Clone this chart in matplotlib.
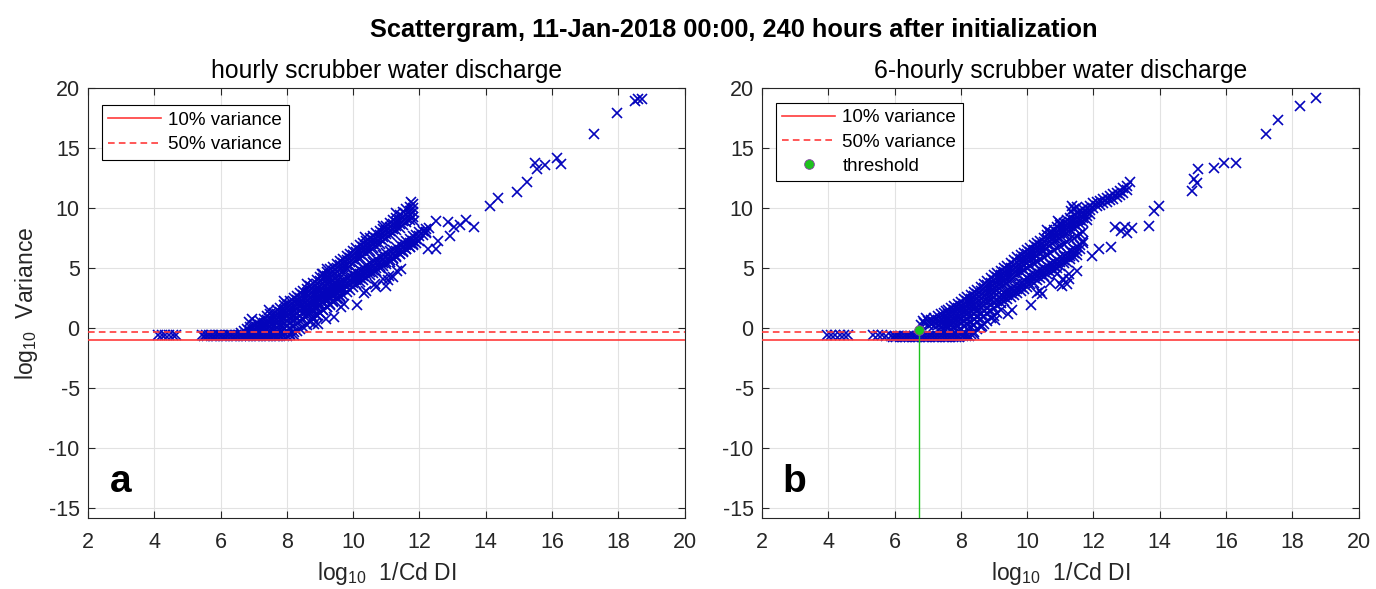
import matplotlib
matplotlib.use("Agg")
import numpy as np
import matplotlib.pyplot as plt
from matplotlib.lines import Line2D

plt.rcParams['font.family'] = ['Liberation Sans', 'DejaVu Sans']
plt.rcParams['mathtext.fontset'] = 'custom'
plt.rcParams['mathtext.rm'] = 'Liberation Sans'
plt.rcParams['mathtext.it'] = 'Liberation Sans:italic'
plt.rcParams['axes.unicode_minus'] = False

N = None
# ---------------- data ----------------
suptitle = "Scattergram, 11-Jan-2018 00:00, 240 hours after initialization"
titles = ["hourly scrubber water discharge", "6-hourly scrubber water discharge"]
panel_letters = ["a", "b"]
xticks = [2, 4, 6, 8, 10, 12, 14, 16, 18, 20]
yticks = [-15, -10, -5, 0, 5, 10, 15, 20]
var10 = -1.0      # log10(0.1)
var50 = -0.301    # log10(0.5)
thr_x = 6.75
thr_y = -0.15

# ===== panel a =====
a_left_x = [4.10, 4.22, 4.32, 4.45, 4.55, 4.65]
a_left_y = [-0.55, -0.52, -0.56, -0.52, -0.55, -0.52]
a_flat_x1 = [5.45, 5.55, 5.65, 5.75, 5.85, 5.95, 6.05, 6.15, 6.25, 6.35, 6.45, 6.55, 6.65,
             6.75, 6.85, 6.95, 7.05, 7.15, 7.25, 7.35, 7.45, 7.55, 7.65, 7.75, 7.85]
a_flat_y1 = [-0.58, -0.6, -0.57, -0.6, -0.58, -0.6, -0.57, -0.59, -0.6, -0.57, -0.6, -0.58, -0.6,
             -0.57, -0.6, -0.58, -0.6, -0.57, -0.6, -0.58, -0.6, -0.57, -0.6, -0.58, -0.6]
a_flat_x2 = [5.5, 5.6, 5.7, 5.8, 5.9, 6.0, 6.1, 6.2, 6.3, 6.4, 6.5, 6.6, 6.7, 6.8,
             6.9, 7.0, 7.1, 7.2, 7.3, 7.4, 7.5, 7.6, 7.7, 7.8, 7.9, 8.0, 8.1, 8.2]
a_flat_y2 = [-0.66, -0.68, -0.65, -0.67, -0.66, -0.68, -0.65, -0.67, -0.66, -0.68, -0.65, -0.67, -0.66, -0.68,
             -0.65, -0.67, -0.66, -0.68, -0.65, -0.67, -0.66, -0.68, -0.65, -0.67, -0.66, -0.62, -0.6, -0.55]

# upper / middle band tracks (shared x)
a_ux = [6.6, 6.7, 6.8, 6.9, 7.0, 7.1, 7.2, 7.3, 7.4, 7.5, 7.6, 7.7, 7.8, 7.9, 8.0, 8.1, 8.2, 8.3,
        8.4, 8.5, 8.6, 8.7, 8.8, 8.9, 9.0, 9.1, 9.2, 9.3, 9.4, 9.5, 9.6, 9.7, 9.8, 9.9, 10.0,
        10.1, 10.2, 10.3, 10.4, 10.5, 10.6, 10.7, 10.8, 10.9, 11.0, 11.1, 11.2, 11.3, 11.4,
        11.5, 11.6, 11.7, 11.8]
a_u1 = [-0.4, -0.25, -0.1, 0.1, 0.3, 0.45, 0.6, 0.8, 1.0, 1.15, 1.3, 1.5, 1.7, 1.9, 2.05, 2.3, 2.5, 2.7,
        2.9, 3.1, 3.3, 3.55, 3.8, 4.0, 4.25, 4.5, 4.7, 4.9, 5.1, 5.35, 5.6, 5.8, 6.0, 6.2, 6.45,
        6.7, 6.9, 7.1, 7.3, 7.5, 7.7, 7.9, 8.1, 8.3, 8.55, 8.8, 9.0, 9.2, 9.4,
        9.65, 9.9, 10.1, 10.35]
a_u2 = [N, N, -0.45, -0.25, -0.05, 0.1, 0.25, 0.45, 0.65, 0.8, 0.95, 1.15, 1.35, 1.55, 1.7, 1.95, 2.15, 2.35,
        2.55, 2.75, 2.95, 3.2, 3.45, 3.65, 3.9, 4.15, 4.35, 4.55, 4.75, 5.0, 5.25, 5.45, 5.65, 5.85, 6.1,
        6.35, 6.55, 6.75, 6.95, 7.15, 7.35, 7.55, 7.75, 7.95, 8.2, 8.45, 8.65, 8.85, 9.05,
        9.3, 9.55, 9.75, 10.0]
a_u3 = [N, N, N, -0.6, -0.4, -0.25, -0.1, 0.1, 0.3, 0.45, 0.6, 0.8, 1.0, 1.2, 1.35, 1.6, 1.8, 2.0,
        2.2, 2.4, 2.6, 2.85, 3.1, 3.3, 3.55, 3.8, 4.0, 4.2, 4.4, 4.65, 4.9, 5.1, 5.3, 5.5, 5.75,
        6.0, 6.2, 6.4, 6.6, 6.8, 7.0, 7.2, 7.4, 7.6, 7.85, 8.1, 8.3, 8.5, 8.7,
        8.95, 9.2, 9.4, 9.65]
a_u4 = [N, N, N, N, N, -0.6, -0.45, -0.25, -0.05, 0.1, 0.25, 0.45, 0.65, 0.85, 1.0, 1.25, 1.45, 1.65,
        1.85, 2.05, 2.25, 2.5, 2.75, 2.95, 3.2, 3.45, 3.65, 3.85, 4.05, 4.3, 4.55, 4.75, 4.95, 5.15, 5.4,
        5.65, 5.85, 6.05, 6.25, 6.45, 6.65, 6.85, 7.05, 7.25, 7.5, 7.75, 7.95, 8.15, 8.35,
        8.6, 8.85, 9.05, 9.3]

# fill between flat part and middle band (shared x)
a_fx = [7.3, 7.4, 7.5, 7.6, 7.7, 7.8, 7.9, 8.0, 8.1, 8.2, 8.3, 8.4, 8.5, 8.6, 8.7, 8.8,
        8.9, 9.0, 9.1, 9.2, 9.3, 9.4, 9.5, 9.6]
a_f1 = [N, -0.45, -0.3, -0.15, 0.05, 0.25, 0.45, 0.6, 0.85, 1.05, 1.25, 1.45, 1.65, 1.85, 2.1, 2.35,
        2.55, 2.8, 3.05, 3.25, 3.45, 3.65, 3.9, 4.15]
a_f2 = [N, N, N, -0.55, -0.35, -0.15, 0.05, 0.2, 0.45, 0.65, 0.85, 1.05, 1.25, 1.45, 1.7, 1.95,
        2.15, 2.4, 2.65, 2.85, 3.05, 3.25, 3.5, 3.75]
a_f3 = [N, N, N, N, N, N, -0.4, -0.25, 0.0, 0.2, 0.4, 0.6, 0.8, 1.0, 1.25, 1.5,
        1.7, 1.95, 2.2, 2.4, 2.6, 2.8, 3.05, 3.3]
a_f4 = [N, N, N, N, N, N, N, N, -0.45, -0.35, -0.2, -0.05, 0.1, 0.3, 0.5, 0.75,
        1.0, 1.25, 1.5, 1.75, 2.0, 2.25, 2.5, 2.7]

# lower band tracks (shared x)
a_lx = [8.6, 8.7, 8.8, 8.9, 9.0, 9.1, 9.2, 9.3, 9.4, 9.5, 9.6, 9.7, 9.8, 9.9, 10.0, 10.1,
        10.2, 10.3, 10.4, 10.5, 10.6, 10.7, 10.8, 10.9, 11.0, 11.1, 11.2, 11.3, 11.4, 11.5,
        11.6, 11.7, 11.8, 11.9, 12.0, 12.1, 12.2, 12.3, 12.4]
a_l1 = [1.9, 2.1, 2.3, 2.5, 2.7, 2.85, 3.0, 3.2, 3.4, 3.6, 3.8, 4.0, 4.15, 4.35, 4.5, 4.7,
        4.85, 5.05, 5.2, 5.4, 5.55, 5.75, 5.9, 6.1, 6.25, 6.4, 6.55, 6.75, 6.9, 7.1,
        7.3, 7.45, 7.65, 7.8, 8.0, 8.1, 8.25, 8.35, N]
a_l2 = [1.55, 1.75, 1.95, 2.15, 2.35, 2.5, 2.65, 2.85, 3.05, 3.25, 3.45, 3.65, 3.8, 4.0, 4.15, 4.35,
        4.5, 4.7, 4.85, 5.05, 5.2, 5.4, 5.55, 5.75, 5.9, 6.05, 6.2, 6.4, 6.55, 6.75,
        6.95, 7.1, 7.3, 7.45, 7.65, 7.8, 7.95, N, N]
a_l3 = [1.2, 1.4, 1.6, 1.8, 2.0, 2.15, 2.3, 2.5, 2.7, 2.9, 3.1, 3.3, 3.45, 3.65, 3.8, 4.0,
        4.15, 4.35, 4.5, 4.7, 4.85, 5.05, 5.2, 5.4, 5.55, 5.7, 5.85, 6.05, 6.2, 6.4,
        6.6, 6.75, 6.95, 7.1, 7.3, N, N, N, N]
a_l4 = [N, N, 0.9, 1.1, 1.3, 1.5, 1.75, 1.95, 2.2, 2.4, 2.6, 2.8, 3.0, 3.2, 3.45, 3.65,
        3.85, 4.0, 4.2, 4.4, 4.6, 4.8, 5.0, 5.2, 5.35, 5.55, 5.75, 5.95, 6.15, 6.35,
        6.6, 6.8, 7.0, N, N, N, N, N, N]

a_sp_x = [6.85, 6.95, 7.45, 7.9, 8.6, 9.05, 9.2, 10.35, 10.9, 11.3, 11.75, 11.85,
          8.82, 8.93, 9.17, 9.41, 9.63, 9.73, 10.12, 10.33, 10.38, 10.66, 10.69, 10.9,
          11.0, 11.04, 11.08, 11.2, 11.32, 11.44]
a_sp_y = [0.5, 0.75, 1.55, 2.3, 3.65, 4.55, 4.9, 7.6, 8.5, 9.6, 10.55, 8.9,
          0.36, 0.33, 0.75, 0.9, 1.75, 2.0, 1.9, 2.9, 3.1, 3.68, 3.4, 4.1,
          3.55, 4.0, 4.37, 4.25, 4.79, 4.93]
a_far_x = [12.27, 12.5, 12.57, 12.2, 12.5, 12.87, 12.93, 13.05, 13.23, 13.41, 13.65,
           14.13, 14.37, 14.94, 15.24, 15.5, 15.56, 15.8, 16.16, 16.28, 17.27, 17.95,
           18.5, 18.61, 18.73]
a_far_y = [6.6, 6.6, 7.3, 8.0, 8.9, 8.83, 7.66, 8.4, 8.63, 9.02, 8.47,
           10.22, 10.86, 11.34, 12.17, 13.76, 13.3, 13.6, 14.2, 13.65, 16.15, 17.9,
           18.95, 19.1, 19.1]

# ===== panel b =====
b_left_x = [3.95, 4.08, 4.2, 4.35, 4.48, 4.6]
b_left_y = [-0.58, -0.55, -0.6, -0.55, -0.58, -0.55]
b_sparse_x = [5.35, 5.5, 5.62, 5.75]
b_sparse_y = [-0.58, -0.6, -0.56, -0.62]
b_flat_x1 = [5.9, 6.0, 6.1, 6.2, 6.3, 6.4, 6.5, 6.6, 6.7, 6.8, 6.9, 7.0, 7.1, 7.2, 7.3,
             7.4, 7.5, 7.6, 7.7, 7.8, 7.9, 8.0, 8.1, 8.2, 8.3, 8.4]
b_flat_y1 = [-0.62, -0.65, -0.62, -0.64, -0.62, -0.65, -0.62, -0.64, -0.62, -0.65, -0.62, -0.64, -0.62, -0.65, -0.62,
             -0.64, -0.62, -0.65, -0.62, -0.64, -0.62, -0.6, -0.58, -0.55, -0.5, -0.45]
b_flat_x2 = [5.95, 6.05, 6.15, 6.25, 6.35, 6.45, 6.55, 6.65, 6.75, 6.85, 6.95, 7.05, 7.15,
             7.25, 7.35, 7.45, 7.55, 7.65, 7.75, 7.85, 7.95, 8.05, 8.15, 8.25]
b_flat_y2 = [-0.72, -0.7, -0.73, -0.71, -0.72, -0.7, -0.73, -0.71, -0.72, -0.7, -0.73, -0.71, -0.72,
             -0.7, -0.73, -0.71, -0.72, -0.7, -0.73, -0.71, -0.7, -0.68, -0.66, -0.63]

b_ux = [6.8, 6.9, 7.0, 7.1, 7.2, 7.3, 7.4, 7.5, 7.6, 7.7, 7.8, 7.9, 8.0, 8.1, 8.2, 8.3,
        8.4, 8.5, 8.6, 8.7, 8.8, 8.9, 9.0, 9.1, 9.2, 9.3, 9.4, 9.5, 9.6, 9.7, 9.8, 9.9,
        10.0, 10.1, 10.2, 10.3, 10.4, 10.5, 10.6, 10.7, 10.8, 10.9, 11.0, 11.1, 11.2, 11.3,
        11.4, 11.5, 11.6, 11.7, 11.8, 11.9, 12.0, 12.1, 12.2, 12.3, 12.4, 12.5, 12.6, 12.7,
        12.8, 12.9, 13.0, 13.1]
b_u1 = [0.3, 0.45, 0.6, 0.7, 0.85, 1.0, 1.15, 1.3, 1.5, 1.65, 1.85, 2.0, 2.2, 2.4, 2.6, 2.8,
        3.0, 3.2, 3.45, 3.7, 3.95, 4.15, 4.4, 4.6, 4.8, 5.0, 5.2, 5.4, 5.65, 5.9, 6.1, 6.3,
        6.5, 6.7, 6.9, 7.1, 7.3, 7.5, 7.75, 8.0, 8.2, 8.4, 8.6, 8.8, 9.0, 9.2,
        9.4, 9.6, 9.75, 9.9, 10.05, 10.2, 10.4, 10.5, 10.6, 10.75, 10.85, 11.0, 11.15, 11.3,
        11.45, 11.65, 11.85, 12.15]
b_u2 = [N, N, 0.25, 0.35, 0.5, 0.65, 0.8, 0.95, 1.15, 1.3, 1.5, 1.65, 1.85, 2.05, 2.25, 2.45,
        2.65, 2.85, 3.1, 3.35, 3.6, 3.8, 4.05, 4.25, 4.45, 4.65, 4.85, 5.05, 5.3, 5.55, 5.75, 5.95,
        6.15, 6.35, 6.55, 6.75, 6.95, 7.15, 7.4, 7.65, 7.85, 8.05, 8.25, 8.45, 8.65, 8.85,
        9.05, 9.25, 9.4, 9.55, 9.7, 9.85, 10.05, 10.15, 10.25, 10.4, 10.5, 10.65, 10.8, 10.95,
        11.1, 11.3, 11.5, N]
b_u3 = [N, N, N, N, 0.15, 0.3, 0.45, 0.6, 0.8, 0.95, 1.15, 1.3, 1.5, 1.7, 1.9, 2.1,
        2.3, 2.5, 2.75, 3.0, 3.25, 3.45, 3.7, 3.9, 4.1, 4.3, 4.5, 4.7, 4.95, 5.2, 5.4, 5.6,
        5.8, 6.0, 6.2, 6.4, 6.6, 6.8, 7.05, 7.3, 7.5, 7.7, 7.9, 8.1, 8.3, 8.5,
        8.7, 8.9, 9.05, 9.2, 9.35, 9.5, N, N, N, N, N, N, N, N,
        N, N, N, N]
b_u4 = [N, N, N, N, N, N, 0.1, 0.25, 0.45, 0.6, 0.8, 0.95, 1.15, 1.35, 1.55, 1.75,
        1.95, 2.15, 2.4, 2.65, 2.9, 3.1, 3.35, 3.55, 3.75, 3.95, 4.15, 4.35, 4.6, 4.85, 5.05, 5.25,
        5.45, 5.65, 5.85, 6.05, 6.25, 6.45, 6.7, 6.95, 7.15, 7.35, 7.55, 7.75, 7.95, 8.15,
        8.35, 8.55, 8.7, 8.85, 9.0, N, N, N, N, N, N, N, N, N,
        N, N, N, N]

b_mx = [7.4, 7.5, 7.6, 7.7, 7.8, 7.9, 8.0, 8.1, 8.2, 8.3, 8.4, 8.5, 8.6, 8.7, 8.8, 8.9,
        9.0, 9.1, 9.2, 9.3, 9.4, 9.5, 9.6, 9.7, 9.8, 9.9, 10.0, 10.1, 10.2, 10.3, 10.4, 10.5,
        10.6, 10.7, 10.8, 10.9, 11.0, 11.1, 11.2, 11.3, 11.4, 11.5, 11.6, 11.7]
b_u5 = [-0.25, -0.1, 0.1, 0.25, 0.45, 0.6, 0.8, 1.0, 1.2, 1.4, 1.6, 1.8, 2.05, 2.3, 2.55, 2.75,
        3.0, 3.2, 3.4, 3.6, 3.8, 4.0, 4.25, 4.5, 4.65, 4.85, 5.05, 5.2, 5.4, 5.55, 5.75, 5.9,
        6.1, 6.3, 6.5, 6.7, 6.85, 7.05, 7.2, 7.4, 7.55, 7.7, 7.85, 8.0]

b_sx = [7.6, 7.7, 7.8, 7.9, 8.0, 8.1, 8.2, 8.3, 8.4, 8.5, 8.6, 8.7, 8.8, 8.9, 9.0, 9.1,
        9.2, 9.3, 9.4, 9.5, 9.6, 9.7, 9.8, 9.9, 10.0, 10.1, 10.2, 10.3, 10.4, 10.5, 10.6,
        10.7, 10.8, 10.9, 11.0, 11.1, 11.2, 11.3, 11.4, 11.5, 11.6, 11.7]
b_s1 = [-0.3, -0.15, 0.05, 0.2, 0.4, 0.6, 0.8, 1.0, 1.2, 1.4, 1.65, 1.9, 2.15, 2.35, 2.6, 2.75,
        2.8, 2.95, 3.1, 3.3, 3.45, 3.65, 3.8, 4.0, 4.15, 4.35, 4.5, 4.7, 4.85, 5.0, 5.2,
        5.35, 5.55, 5.7, 5.9, 6.05, 6.25, 6.4, 6.6, 6.75, 6.95, 7.1]
b_s2 = [N, N, -0.4, -0.25, -0.05, 0.15, 0.35, 0.55, 0.75, 0.95, 1.2, 1.45, 1.7, 1.9, 2.15, 2.3,
        2.45, 2.6, 2.75, 2.95, 3.1, 3.3, 3.45, 3.65, 3.8, 4.0, 4.15, 4.35, 4.5, 4.65, 4.85,
        5.0, 5.2, 5.35, 5.55, 5.7, 5.9, 6.05, 6.25, 6.4, 6.6, N]
b_s3 = [N, N, N, N, N, N, -0.1, 0.1, 0.3, 0.5, 0.75, 1.0, 1.25, 1.45, 1.7, 1.9,
        2.1, 2.25, 2.4, 2.6, 2.75, 2.95, 3.1, 3.3, 3.45, 3.65, 3.8, 4.0, 4.15, 4.35, 4.5,
        4.7, 4.85, 5.05, 5.2, 5.4, 5.55, 5.75, 5.9, 6.1, N, N]
b_bot_x = [8.4, 8.5, 8.6, 8.7, 8.8, 8.9, 9.0, 9.1, 9.2]
b_bot_y = [-0.3, -0.1, 0.1, 0.35, 0.6, 0.85, 1.05, 1.3, 1.55]

b_sp_x = [6.87, 6.95, 7.55, 10.6, 10.68, 10.94, 11.0, 11.33, 11.4, 11.5, 11.35,
          8.64, 9.03, 9.43, 9.53, 10.12, 10.3, 10.4, 10.46, 10.7, 10.9, 11.0, 11.06,
          11.07, 11.2, 11.25, 11.25, 11.5, 11.7, 11.95, 12.16, 12.52]
b_sp_y = [0.6, 0.85, 1.45, 8.2, 7.9, 8.97, 8.8, 9.75, 9.9, 10.1, 10.2,
          0.2, 0.65, 1.2, 1.5, 1.9, 2.9, 3.1, 2.84, 3.8, 4.5, 3.7, 3.54,
          4.1, 3.68, 4.1, 4.5, 4.8, 7.3, 6.04, 6.6, 6.74]
b_far_x = [12.64, 12.83, 12.94, 13.0, 13.15, 13.68, 13.83, 13.98, 14.98, 15.04, 15.13,
           15.16, 15.63, 15.94, 16.3, 17.21, 17.58, 18.23, 18.72]
b_far_y = [8.47, 8.13, 8.41, 7.9, 8.38, 8.55, 9.75, 10.2, 11.4, 12.45, 12.1,
           13.27, 13.36, 13.8, 13.8, 16.15, 17.35, 18.54, 19.2]

panel_a_groups = [(a_left_x, a_left_y), (a_flat_x1, a_flat_y1), (a_flat_x2, a_flat_y2),
                  (a_ux, a_u1), (a_ux, a_u2), (a_ux, a_u3), (a_ux, a_u4),
                  (a_fx, a_f1), (a_fx, a_f2), (a_fx, a_f3), (a_fx, a_f4),
                  (a_lx, a_l1), (a_lx, a_l2), (a_lx, a_l3), (a_lx, a_l4),
                  (a_sp_x, a_sp_y), (a_far_x, a_far_y)]
panel_b_groups = [(b_left_x, b_left_y), (b_sparse_x, b_sparse_y), (b_flat_x1, b_flat_y1),
                  (b_flat_x2, b_flat_y2),
                  (b_ux, b_u1), (b_ux, b_u2), (b_ux, b_u3), (b_ux, b_u4),
                  (b_mx, b_u5), (b_sx, b_s1), (b_sx, b_s2), (b_sx, b_s3),
                  (b_bot_x, b_bot_y), (b_sp_x, b_sp_y), (b_far_x, b_far_y)]

# ---------------- figure ----------------
fig = plt.figure(figsize=(13.76, 5.89), dpi=100)
ax_a = fig.add_axes([0.064, 0.1205, 0.4335, 0.730])
ax_b = fig.add_axes([0.5538, 0.1205, 0.4335, 0.730])

mark_col = '#0404bc'
red = '#ff3b3b'
green = '#1ec21e'
axcol = '#262626'

for ax, groups, title, letter in [(ax_a, panel_a_groups, titles[0], panel_letters[0]),
                                  (ax_b, panel_b_groups, titles[1], panel_letters[1])]:
    for gx, gy in groups:
        ax.plot(np.array(gx, dtype=float), np.array(gy, dtype=float), linestyle='none',
                marker='x', ms=7, mew=1.2, color=mark_col, zorder=2)
    ax.axhline(var10, color=red, lw=1.2, zorder=3)
    ax.axhline(var50, color=red, lw=1.2, ls=(0, (4, 2.5)), zorder=3)
    ax.set_xlim(2, 20)
    ax.set_ylim(-15.8, 20)
    ax.set_xticks(xticks)
    ax.set_yticks(yticks)
    ax.grid(True, color='#e2e2e2', lw=0.8, zorder=0)
    ax.set_axisbelow(True)
    ax.tick_params(direction='in', length=5, width=0.8, top=True, right=True,
                   labelsize=15.5, colors=axcol)
    ax.tick_params(axis='x', pad=10)
    ax.tick_params(axis='y', pad=6)
    for s in ax.spines.values():
        s.set_color(axcol)
        s.set_linewidth(0.8)
    ax.set_title(title, fontsize=17.8, pad=7, color='black')
    ax.set_xlabel(r'log$_{10}$  1/Cd DI', fontsize=16.5, labelpad=5, color=axcol)
    ax.text(0.054, 0.084, letter, transform=ax.transAxes, fontsize=28,
            fontweight='bold', ha='center', va='center', color='black')

ax_a.set_ylabel(r'log$_{10}$  Variance', fontsize=16.5, labelpad=6, color=axcol)

# threshold in panel b
ax_b.vlines(thr_x, -15.8, thr_y, color=green, lw=1.0, zorder=4)
ax_b.plot([thr_x], [thr_y], linestyle='none', marker='o', ms=7, mfc=green,
          mec='#8a3fa8', mew=0.6, zorder=5)

h10 = Line2D([], [], color=red, lw=1.2)
h50 = Line2D([], [], color=red, lw=1.2, ls=(0, (4, 2.5)))
hth = Line2D([], [], linestyle='none', marker='o', ms=7, mfc=green, mec='#8a3fa8', mew=0.6)

leg_kw = dict(loc='upper left', borderaxespad=0,
              fontsize=13.5, fancybox=False, framealpha=1, edgecolor='black',
              handlelength=2.8, handletextpad=0.4, labelspacing=0.38, borderpad=0.35)
lg = ax_a.legend([h10, h50], ['10% variance', '50% variance'],
                 bbox_to_anchor=(0.023, 0.960), **leg_kw)
lg.get_frame().set_linewidth(0.8)
lg2 = ax_b.legend([h10, h50, hth], ['10% variance', '50% variance', 'threshold'],
                  bbox_to_anchor=(0.023, 0.966), **leg_kw)
lg2.get_frame().set_linewidth(0.8)

fig.text(0.533, 0.937, suptitle, fontsize=18.3, fontweight='bold', ha='center',
         va='baseline', color='black')

fig.savefig('out.png', dpi=100)
